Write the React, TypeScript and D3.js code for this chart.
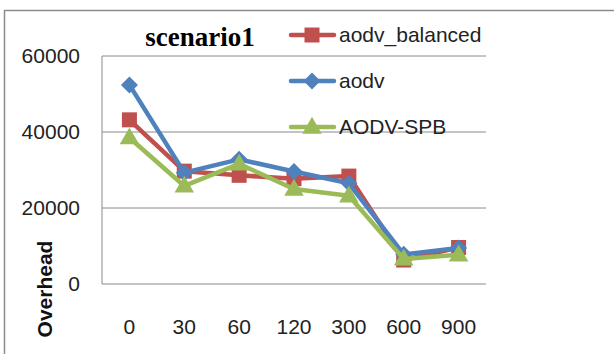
import React from "react";
import * as d3 from "d3";

const categories = ["0", "30", "60", "120", "300", "600", "900"];
const balanced = [43200, 29700, 28600, 27700, 28400, 6300, 9600];
const aodv = [52400, 29300, 32800, 29600, 26500, 7800, 9500];
const spb = [38500, 25800, 31600, 25000, 23200, 6600, 7700];
const yTicks = [0, 20000, 40000, 60000];

const series = [
  { name: "aodv_balanced", values: balanced, color: "#C0504D", marker: "square" },
  { name: "aodv", values: aodv, color: "#4F81BD", marker: "diamond" },
  { name: "AODV-SPB", values: spb, color: "#9BBB59", marker: "triangle" },
];

const W = 614;
const H = 354;
const plot = { left: 102, right: 486, top: 56, bottom: 284 };

function Marker({ type, x, y, color }: { type: string; x: number; y: number; color: string }) {
  if (type === "square") {
    return <rect x={x - 7.5} y={y - 7.5} width={15} height={15} fill={color} />;
  }
  if (type === "diamond") {
    const r = 8.5;
    return <path d={`M${x},${y - r}L${x + r},${y}L${x},${y + r}L${x - r},${y}Z`} fill={color} />;
  }
  const s = d3.symbol(d3.symbolTriangle, 165)();
  return <path d={s || ""} transform={`translate(${x},${y + 1})`} fill={color} />;
}

export default function App() {
  const x = d3.scalePoint<string>().domain(categories).range([plot.left, plot.right]).padding(0.5);
  const y = d3.scaleLinear().domain([0, 60000]).range([plot.bottom, plot.top]);
  const line = d3
    .line<number>()
    .x((_, i) => x(categories[i]) as number)
    .y((d) => y(d));

  const sans = "'Liberation Sans', Arial, sans-serif";
  const legendY = [35, 81, 127];

  return (
    <svg width={W} height={H} style={{ position: "absolute", left: 0, top: 0 }}>
      <rect x={0} y={0} width={W} height={H} fill="#fff" />
      {/* outer frame */}
      <path d={`M4.5,${H}V10.5H${W}`} fill="none" stroke="#8c8c8c" strokeWidth={1.5} />

      {/* gridlines */}
      {yTicks.map((t) => (
        <line key={t} x1={plot.left} x2={plot.right} y1={y(t)} y2={y(t)} stroke="#8a8a8a" strokeWidth={1} />
      ))}
      <line x1={plot.left} x2={plot.left} y1={plot.top} y2={plot.bottom} stroke="#8a8a8a" strokeWidth={1} />

      {/* y tick labels */}
      {yTicks.map((t) => (
        <text key={t} x={80} y={y(t)} dy="0.35em" textAnchor="end" fontFamily={sans} fontSize={21} fill="#222">
          {t}
        </text>
      ))}

      {/* x tick labels */}
      {categories.map((c) => (
        <text key={c} x={x(c)} y={327} dy="0.35em" textAnchor="middle" fontFamily={sans} fontSize={21} fill="#222">
          {c}
        </text>
      ))}

      {/* axis title */}
      <text
        transform={`translate(52,289) rotate(-90)`}
        textAnchor="middle"
        fontFamily={sans}
        fontWeight="bold"
        fontSize={21}
        fill="#111"
      >
        Overhead
      </text>

      {/* chart title */}
      <text x={200} y={46} textAnchor="middle" fontFamily="'Liberation Serif', 'Times New Roman', serif" fontWeight="bold" fontSize={27} fill="#000">
        scenario1
      </text>

      {/* series */}
      {series.map((s) => (
        <g key={s.name}>
          <path d={line(s.values) || ""} fill="none" stroke={s.color} strokeWidth={4.5} strokeLinejoin="round" />
          {s.values.map((v, i) => (
            <Marker key={i} type={s.marker} x={x(categories[i]) as number} y={y(v)} color={s.color} />
          ))}
        </g>
      ))}

      {/* legend */}
      {series.map((s, i) => (
        <g key={s.name}>
          <line x1={291} x2={334} y1={legendY[i]} y2={legendY[i]} stroke={s.color} strokeWidth={4.5} strokeLinecap="round" />
          <Marker type={s.marker} x={312} y={legendY[i]} color={s.color} />
          <text x={339} y={legendY[i]} dy="0.35em" fontFamily={sans} fontSize={21} fill="#222">
            {s.name}
          </text>
        </g>
      ))}
    </svg>
  );
}
